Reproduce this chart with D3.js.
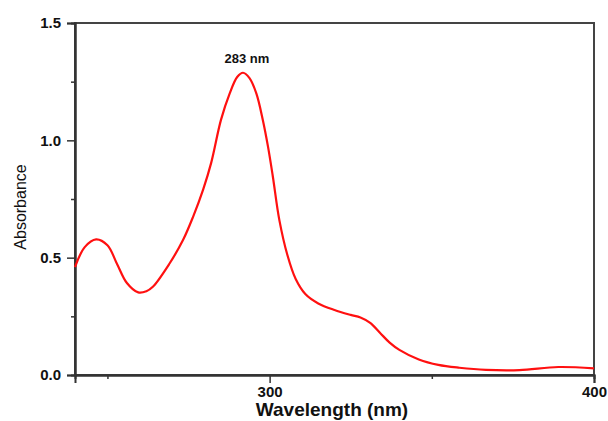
<!DOCTYPE html>
<html>
<head>
<meta charset="utf-8">
<script src="https://cdn.jsdelivr.net/npm/d3@7"></script>
<style>
body{margin:0;background:#fff;}
text{font-family:"Liberation Sans",Arial,sans-serif;}
</style>
</head>
<body>
<div id="chart"></div>
<script>
// spectrum
var wavelength = [240,243,246.5,250,253,256,259.5,262,264,269,273.3,276.4,279.5,282,285,287.7,290,291.8,293.8,295.9,297.9,299.5,301,303,305.5,308,311,315,320,325,328,331,334,337,340,346,352,358.5,366.7,377,389,400];
var absorbance = [0.46,0.545,0.578,0.553,0.472,0.392,0.352,0.357,0.376,0.472,0.575,0.674,0.79,0.905,1.087,1.2,1.27,1.288,1.265,1.2,1.087,0.973,0.845,0.66,0.51,0.41,0.345,0.305,0.277,0.256,0.245,0.222,0.18,0.138,0.107,0.066,0.043,0.031,0.022,0.021,0.034,0.028];
var xTicks = [300,400];
var xMinor = [250,350];
var yTicks = [0,0.5,1.0,1.5];
var yMinor = [0.25,0.75,1.25];
var peakLabel = "283 nm";

var w = 608, h = 421;
var m = {top:23, right:14, bottom:46, left:75};

var svg = d3.select("#chart").append("svg")
  .attr("width",w).attr("height",h);

var x = d3.scaleLinear().domain([240,400]).range([m.left,w-m.right]);
var y = d3.scaleLinear().domain([0,1.5]).range([h-m.bottom,m.top]);

// frame
svg.append("rect")
  .attr("x",m.left).attr("y",m.top)
  .attr("width",w-m.left-m.right).attr("height",h-m.top-m.bottom)
  .attr("fill","none").attr("stroke","#444").attr("stroke-width",2);

svg.append("g")
  .attr("transform","translate(0,"+(h-m.bottom)+")")
  .call(d3.axisBottom(x).tickValues(xTicks).tickSize(8).tickPadding(3).tickFormat(d3.format("d")));
svg.append("g")
  .attr("transform","translate(0,"+(h-m.bottom)+")")
  .call(d3.axisBottom(x).tickValues(xMinor).tickSize(4).tickFormat(""));

svg.append("g")
  .attr("transform","translate("+m.left+",0)")
  .call(d3.axisLeft(y).tickValues(yTicks).tickSize(8).tickPadding(6).tickFormat(d3.format(".1f")));
svg.append("g")
  .attr("transform","translate("+m.left+",0)")
  .call(d3.axisLeft(y).tickValues(yMinor).tickSize(4).tickFormat(""));

svg.selectAll(".domain").attr("stroke","#333").attr("stroke-width",2);
svg.selectAll(".tick line").attr("stroke","#333").attr("stroke-width",1.5);
svg.selectAll(".tick text")
  .attr("font-size",15).attr("font-weight","bold").attr("fill","#111")
  .attr("font-family","Liberation Sans, Arial, sans-serif");

var line = d3.line()
  .x(function(d,i){ return x(wavelength[i]); })
  .y(function(d){ return y(d); })
  .curve(d3.curveCatmullRom.alpha(0.5));

svg.append("path")
  .datum(absorbance)
  .attr("d",line)
  .attr("fill","none")
  .attr("stroke","#ff1010")
  .attr("stroke-width",2.2);

svg.append("text")
  .attr("x",x(293)).attr("y",y(1.5)+40)
  .attr("text-anchor","middle")
  .attr("font-size",13).attr("font-weight","bold").attr("fill","#111")
  .text(peakLabel);

svg.append("text")
  .attr("x",332).attr("y",h-5)
  .attr("text-anchor","middle")
  .attr("font-size",19).attr("font-weight","bold").attr("fill","#111")
  .text("Wavelength (nm)");

svg.append("text")
  .attr("transform","translate(26,"+(y(0.75)+8)+") rotate(-90)")
  .attr("text-anchor","middle")
  .attr("font-size",16).attr("fill","#111")
  .text("Absorbance");
</script>
</body>
</html>
